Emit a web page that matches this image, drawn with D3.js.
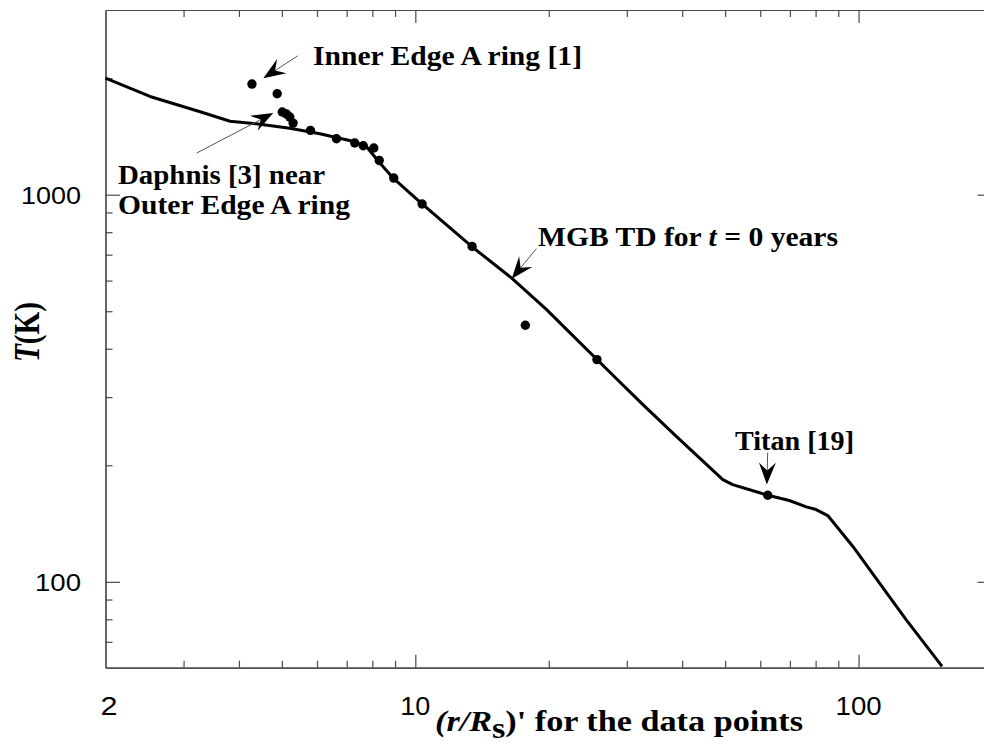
<!DOCTYPE html>
<html>
<head>
<meta charset="utf-8">
<script src="https://cdn.jsdelivr.net/npm/d3@7"></script>
<style>
  html, body { margin: 0; padding: 0; background: #fff; }
  svg { display: block; }
</style>
</head>
<body>
<svg id="chart" width="984" height="745"></svg>
<script>
// MGB thermal distribution model curve, t = 0 years
const curveR = [2, 2.52, 3.27, 3.82, 4.46, 5.21, 6.09, 7.23, 7.76, 8.31, 8.94, 10.34, 13.40, 16.50,
                19.78, 23.48, 27.88, 32.62, 38.80, 49.4, 52.0, 59.8, 62.4, 69.8, 76.2, 80.2, 85.2,
                97.0, 111.4, 128.0, 154.3];
const curveT = [2000, 1794, 1638, 1548, 1521, 1485, 1437, 1374, 1330, 1209, 1100, 948, 735, 609,
                505, 415.6, 342.2, 287, 237.6, 183.7, 178.3, 169.8, 167.4, 162.2, 156.2, 153.7, 148.3,
                123.6, 99.4, 79.9, 60.5];

// Observed temperatures of rings and moons
const dataR = [4.28, 4.88, 5.01, 5.12, 5.21, 5.30, 5.80, 6.64, 7.30, 7.63, 8.06, 8.29, 8.94,
               10.36, 13.43, 17.71, 25.69, 62.4];
const dataT = [1931, 1823, 1635, 1616, 1587, 1531, 1466, 1395, 1360, 1338, 1320, 1226, 1104,
               946, 735, 460, 375, 167.4];

// Axis ticks
const xMajorTicks = [10, 100];
const xMinorTicks = [3, 4, 5, 6, 7, 8, 9, 20, 30, 40, 50, 60, 70, 80, 90];
const xTickLabels = [2, 10, 100];
const yMajorTicks = [100, 1000];
const yMinorTicks = [70, 80, 90, 200, 300, 400, 500, 600, 700, 800, 900, 2000];
const yTickLabels = [100, 1000];

const svg = d3.select("#chart");

const x = d3.scaleLog().domain([2, 200]).range([105.5, 992]);
const y = d3.scaleLog().domain([60, 3000]).range([667.7, 10]);

const axisColor = "#4a4a4a";
const serif = "'Liberation Serif', 'Times New Roman', serif";
const sans = "'Liberation Sans', Arial, sans-serif";

// ----- frame and ticks -----
const axes = svg.append("g").attr("class", "axes");

function drawAxis(gen, transform, values, size) {
  const g = axes.append("g")
    .attr("transform", transform)
    .call(gen.tickValues(values).tickSizeInner(size).tickSizeOuter(0).tickFormat(""));
  g.selectAll("path.domain").attr("stroke", axisColor).attr("stroke-width", 1.2);
  g.selectAll(".tick line").attr("stroke", axisColor).attr("stroke-width", 1.2);
  g.selectAll(".tick text").remove();
  return g;
}

// bottom & top
drawAxis(d3.axisBottom(x), `translate(0,${y.range()[0]})`, xMinorTicks, -7);
drawAxis(d3.axisBottom(x), `translate(0,${y.range()[0]})`, xMajorTicks, -13);
drawAxis(d3.axisTop(x), `translate(0,${y.range()[1]})`, xMinorTicks, -7);
drawAxis(d3.axisTop(x), `translate(0,${y.range()[1]})`, xMajorTicks, -13);
// left & right
drawAxis(d3.axisLeft(y), `translate(${x.range()[0]},0)`, yMinorTicks, -7);
drawAxis(d3.axisLeft(y), `translate(${x.range()[0]},0)`, yMajorTicks, -14.5);
drawAxis(d3.axisRight(y), `translate(${x.range()[1]},0)`, yMinorTicks, -7);
drawAxis(d3.axisRight(y), `translate(${x.range()[1]},0)`, yMajorTicks, -14.5);

// tick labels
const xLabelWidth = {2: 17, 10: 30, 100: 46};
svg.append("g").selectAll("text")
  .data(xTickLabels)
  .join("text")
  .attr("x", d => x(d) + (d === 2 ? 3.5 : 0))
  .attr("y", 715)
  .attr("text-anchor", "middle")
  .attr("font-family", sans)
  .attr("font-size", 25.5)
  .attr("fill", "#000")
  .attr("textLength", d => xLabelWidth[d])
  .attr("lengthAdjust", "spacingAndGlyphs")
  .text(d => d);

const yLabelWidth = {100: 46, 1000: 60};
svg.append("g").selectAll("text")
  .data(yTickLabels)
  .join("text")
  .attr("x", 81)
  .attr("y", d => y(d) + 8.8)
  .attr("text-anchor", "end")
  .attr("font-family", sans)
  .attr("font-size", 24.5)
  .attr("fill", "#000")
  .attr("textLength", d => yLabelWidth[d])
  .attr("lengthAdjust", "spacingAndGlyphs")
  .text(d => d);

// ----- model curve -----
const line = d3.line()
  .x((d, i) => x(curveR[i]))
  .y((d, i) => y(curveT[i]))
  .curve(d3.curveLinear);

svg.append("path")
  .datum(curveR)
  .attr("d", line)
  .attr("fill", "none")
  .attr("stroke", "#000")
  .attr("stroke-width", 3)
  .attr("stroke-linejoin", "round");

// ----- data points -----
svg.append("g").selectAll("circle")
  .data(dataR)
  .join("circle")
  .attr("cx", d => x(d))
  .attr("cy", (d, i) => y(dataT[i]))
  .attr("r", 4.7)
  .attr("fill", "#000");

// ----- annotations -----
// arrow tip in data space, tail as a pixel offset from the tip
const arrows = [
  {r: 4.54, t: 2000, dx: 34.4, dy: -22.3},   // Inner Edge A ring
  {r: 4.78, t: 1625, dx: -76.6, dy: 40},     // Daphnis
  {r: 16.5, t: 607, dx: 24.7, dy: -30},      // MGB TD
  {r: 62.1, t: 178.3, dx: 0.8, dy: -32}      // Titan
];

const arrowG = svg.append("g");
arrows.forEach(a => {
  const tx = x(a.r), ty = y(a.t);
  const ex = tx + a.dx, ey = ty + a.dy;
  const len = Math.hypot(a.dx, a.dy);
  const ux = a.dx / len, uy = a.dy / len;   // from tip toward tail
  const px = -uy, py = ux;                   // perpendicular
  const headL = 22, headW = 8.5, notch = 14;
  arrowG.append("line")
    .attr("x1", tx + ux * notch).attr("y1", ty + uy * notch)
    .attr("x2", ex).attr("y2", ey)
    .attr("stroke", "#555").attr("stroke-width", 1);
  const pts = [
    [tx, ty],
    [tx + ux * headL + px * headW, ty + uy * headL + py * headW],
    [tx + ux * notch, ty + uy * notch],
    [tx + ux * headL - px * headW, ty + uy * headL - py * headW]
  ];
  arrowG.append("path")
    .attr("d", "M" + pts.map(p => p.join(",")).join("L") + "Z")
    .attr("fill", "#000");
});

// annotation texts
const notes = svg.append("g")
  .attr("font-family", serif)
  .attr("font-weight", "bold")
  .attr("font-size", 28)
  .attr("fill", "#000");

function note(xp, yp, width, parts) {
  const t = notes.append("text")
    .attr("x", xp).attr("y", yp)
    .attr("textLength", width)
    .attr("lengthAdjust", "spacingAndGlyphs");
  parts.forEach(p => {
    const s = t.append("tspan").text(p.text);
    if (p.italic) s.attr("font-style", "italic");
  });
  return t;
}

note(313, 65, 269, [{text: "Inner Edge A ring [1]"}]);
note(118, 184, 207, [{text: "Daphnis [3] near"}]);
note(118, 214, 232, [{text: "Outer Edge A ring"}]);
note(538, 246, 300, [{text: "MGB TD for "}, {text: "t", italic: true}, {text: " = 0 years"}]);
note(735, 450, 119, [{text: "Titan [19]"}]);

// axis titles
const xTitle = svg.append("text")
  .attr("x", 435).attr("y", 731)
  .attr("font-family", serif)
  .attr("font-weight", "bold")
  .attr("font-size", 29)
  .attr("fill", "#000")
  .attr("textLength", 368)
  .attr("lengthAdjust", "spacingAndGlyphs");
xTitle.append("tspan").attr("font-style", "italic").text("(r/R");
xTitle.append("tspan").attr("dy", 7).text("s");
xTitle.append("tspan").attr("dy", -7).text(")' for the data points");

const yTitle = svg.append("text")
  .attr("transform", "translate(39,332) rotate(-90)")
  .attr("text-anchor", "middle")
  .attr("font-family", serif)
  .attr("font-weight", "bold")
  .attr("font-size", 36)
  .attr("fill", "#000")
  .attr("textLength", 60)
  .attr("lengthAdjust", "spacingAndGlyphs");
yTitle.append("tspan").attr("font-style", "italic").text("T");
yTitle.append("tspan").text("(K)");
</script>
</body>
</html>
